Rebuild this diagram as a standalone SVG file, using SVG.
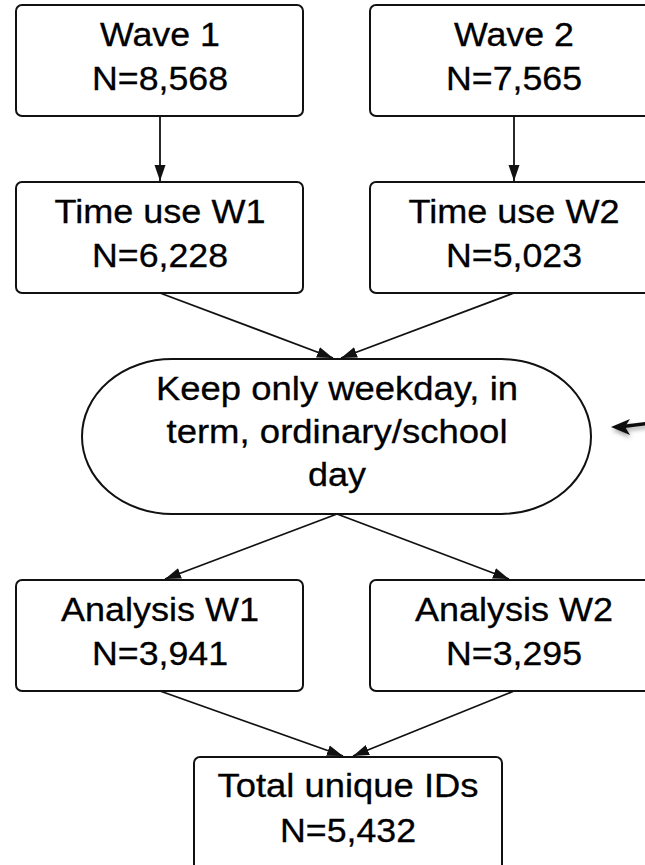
<svg xmlns="http://www.w3.org/2000/svg" width="645" height="865" viewBox="0 0 645 865">
<style>
.box{fill:#fff;stroke:#111;stroke-width:2}
.t{font-family:"Liberation Sans",Arial,sans-serif;font-size:33px;fill:#000;stroke:#000;stroke-width:0.3;text-anchor:middle}
.c{fill:none;stroke:#111;stroke-width:1.8}
</style>
<defs>
<marker id="ah" markerUnits="userSpaceOnUse" markerWidth="17" markerHeight="12" refX="16" refY="6" orient="auto">
<path d="M0,0.5 L16,6 L0,11.5 z" fill="#111"/>
</marker>
<filter id="sh" x="-20%" y="-50%" width="140%" height="200%">
<feDropShadow dx="1" dy="3" stdDeviation="2" flood-color="#000" flood-opacity="0.35"/>
</filter>
</defs>
<rect width="645" height="865" fill="#fff"/>
<g id="connectors">
<line class="c" x1="160" y1="117" x2="160" y2="181" marker-end="url(#ah)"/>
<line class="c" x1="514" y1="117" x2="514" y2="181" marker-end="url(#ah)"/>
<line class="c" x1="160" y1="293" x2="333" y2="358" marker-end="url(#ah)"/>
<line class="c" x1="514" y1="293" x2="341" y2="358" marker-end="url(#ah)"/>
<line class="c" x1="337" y1="514" x2="165" y2="579" marker-end="url(#ah)"/>
<line class="c" x1="337" y1="514" x2="509" y2="579" marker-end="url(#ah)"/>
<line class="c" x1="160" y1="691" x2="343" y2="756" marker-end="url(#ah)"/>
<line class="c" x1="514" y1="691" x2="353" y2="756" marker-end="url(#ah)"/>
<g filter="url(#sh)">
<line x1="623" y1="426.5" x2="660" y2="422" stroke="#111" stroke-width="3.5"/>
<polygon points="611,427 630,419 625,426.7 630,435" fill="#111"/>
</g>
</g>
<g id="wave1">
<rect class="box" x="16" y="5" width="287" height="111" rx="6"/>
<text class="t" x="160" y="45.5" textLength="120" lengthAdjust="spacingAndGlyphs">Wave 1</text>
<text class="t" x="160" y="90" textLength="136" lengthAdjust="spacingAndGlyphs">N=8,568</text>
</g>
<g id="wave2">
<rect class="box" x="370" y="5" width="287" height="111" rx="6"/>
<text class="t" x="514" y="45.5" textLength="120" lengthAdjust="spacingAndGlyphs">Wave 2</text>
<text class="t" x="514" y="90" textLength="136" lengthAdjust="spacingAndGlyphs">N=7,565</text>
</g>
<g id="timeuse1">
<rect class="box" x="16" y="182" width="287" height="111" rx="6"/>
<text class="t" x="160" y="222.5" textLength="211" lengthAdjust="spacingAndGlyphs">Time use W1</text>
<text class="t" x="160" y="267" textLength="136" lengthAdjust="spacingAndGlyphs">N=6,228</text>
</g>
<g id="timeuse2">
<rect class="box" x="370" y="182" width="287" height="111" rx="6"/>
<text class="t" x="514" y="222.5" textLength="211" lengthAdjust="spacingAndGlyphs">Time use W2</text>
<text class="t" x="514" y="267" textLength="136" lengthAdjust="spacingAndGlyphs">N=5,023</text>
</g>
<g id="filter">
<rect class="box" x="82" y="359" width="509" height="155" rx="90" ry="77.5"/>
<text class="t" x="337" y="400" textLength="362" lengthAdjust="spacingAndGlyphs">Keep only weekday, in</text>
<text class="t" x="337" y="443" textLength="341" lengthAdjust="spacingAndGlyphs">term, ordinary/school</text>
<text class="t" x="337" y="486" textLength="58" lengthAdjust="spacingAndGlyphs">day</text>
</g>
<g id="analysis1">
<rect class="box" x="16" y="580" width="287" height="111" rx="6"/>
<text class="t" x="160" y="621" textLength="198" lengthAdjust="spacingAndGlyphs">Analysis W1</text>
<text class="t" x="160" y="665" textLength="136" lengthAdjust="spacingAndGlyphs">N=3,941</text>
</g>
<g id="analysis2">
<rect class="box" x="370" y="580" width="287" height="111" rx="6"/>
<text class="t" x="514" y="621" textLength="198" lengthAdjust="spacingAndGlyphs">Analysis W2</text>
<text class="t" x="514" y="665" textLength="136" lengthAdjust="spacingAndGlyphs">N=3,295</text>
</g>
<g id="total">
<rect class="box" x="194" y="757" width="308" height="120" rx="6"/>
<text class="t" x="348" y="797" textLength="261" lengthAdjust="spacingAndGlyphs">Total unique IDs</text>
<text class="t" x="348" y="842" textLength="136" lengthAdjust="spacingAndGlyphs">N=5,432</text>
</g>
</svg>
